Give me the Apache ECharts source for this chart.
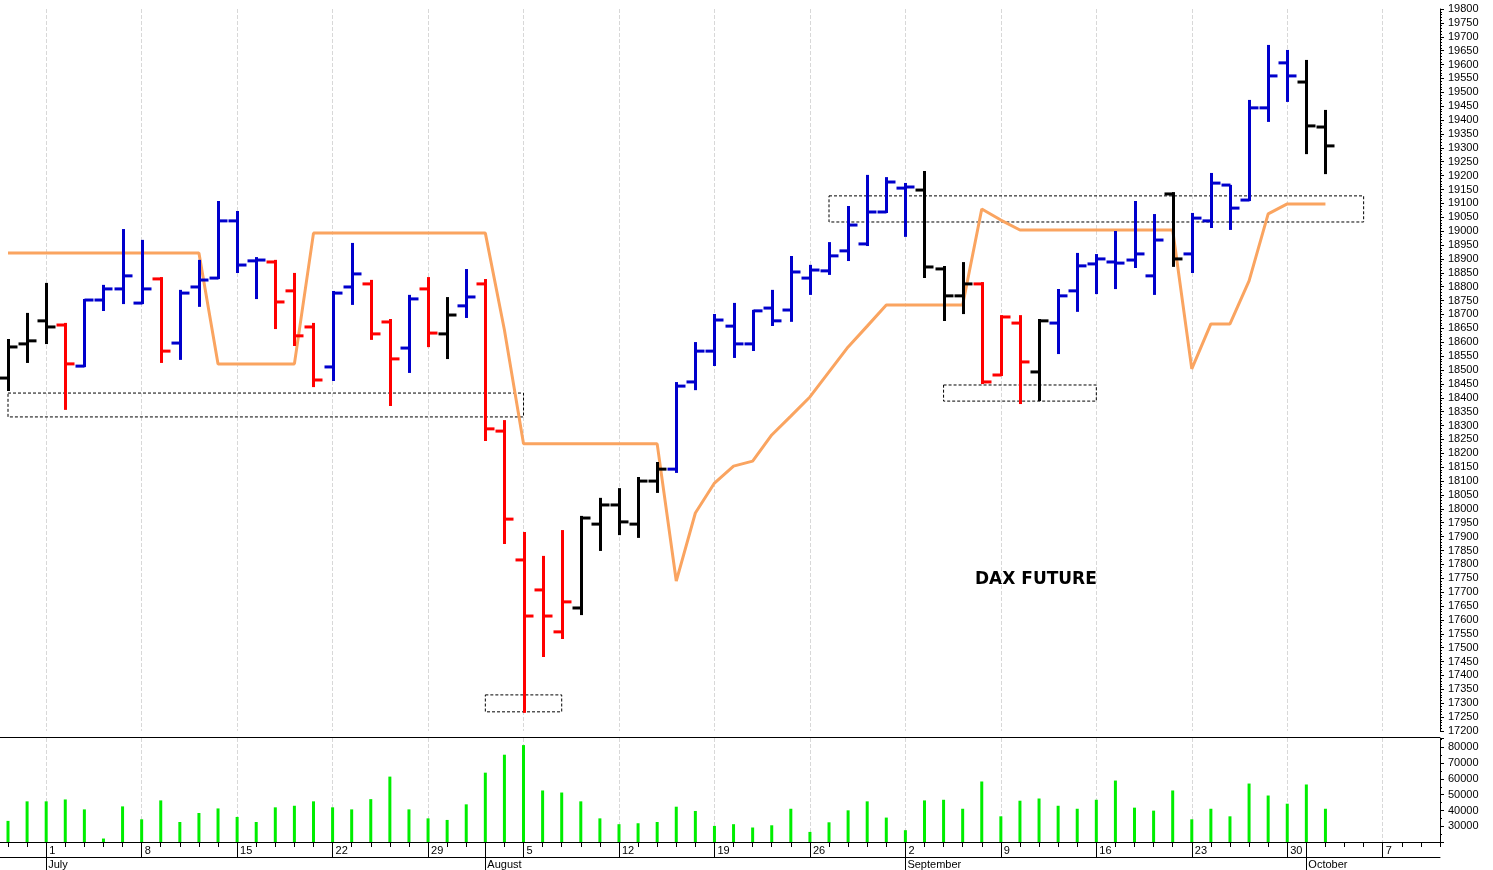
<!DOCTYPE html>
<html>
<head>
<meta charset="utf-8">
<script src="https://cdn.jsdelivr.net/npm/echarts@6/dist/echarts.min.js"></script>
<style>
html,body{margin:0;padding:0;background:#fff;}
#chart{width:1493px;height:870px;}
</style>
</head>
<body>
<div id="chart"></div>
<script>
// daily bars: open, high, low, close
var opens  = [18471,18594,18677,18662,18514,18752,18792,18741,18828,18597,18799,18831,19037,18893,18889,18785,18655,18511,18799,18810,18673,18579,18792,18630,18731,
              18810,18280,17816,17708,17557,17643,17945,18014,17945,18100,18143,18457,18568,18658,18594,18723,18716,18831,18857,18929,18954,19069,19155,
              19148,18864,18767,18810,18482,18669,18493,18669,18785,18882,18889,18896,18839,19134,18918,19037,19166,19112,19444,19606,19537,19375];
var highs  = [18608,18702,18810,18666,18752,18803,19004,18965,18831,18785,18893,19105,19069,18903,18893,18846,18666,18781,18954,18821,18680,18767,18831,18759,18860,
              18824,18316,17913,17827,17920,17971,18036,18071,18111,18165,18453,18597,18698,18738,18713,18785,18907,18875,18957,19087,19199,19191,19170,
              19213,18871,18885,18813,18694,18694,18680,18788,18918,18914,18997,19105,19058,19137,19062,19206,19163,19469,19667,19649,19613,19433];
var lows   = [18428,18529,18597,18360,18514,18716,18741,18741,18529,18540,18731,18831,18853,18759,18651,18590,18442,18464,18738,18612,18374,18493,18586,18543,18691,
              18248,17877,17269,17470,17535,17621,17852,17909,17899,18061,18133,18431,18518,18547,18572,18662,18677,18774,18846,18896,18950,19069,18983,
              18835,18680,18705,18453,18482,18381,18392,18561,18713,18777,18795,18871,18774,18875,18853,19015,19008,19112,19397,19469,19281,19209];
var closes = [18583,18605,18655,18522,18752,18792,18839,18792,18568,18777,18824,19037,18878,18896,18745,18623,18464,18777,18846,18630,18540,18756,18633,18698,18763,
              18288,17963,17614,17614,17665,17967,18014,17953,18100,18143,18442,18568,18680,18594,18713,18677,18853,18860,18911,19022,19069,19177,19159,
              18871,18767,18810,18457,18691,18529,18677,18767,18875,18900,18885,18918,18968,18900,19047,19173,19083,19444,19559,19559,19379,19307];
// bar colour code: k black, b blue, r red
var barColors = 'kkkrbbbbrbbbbbrrrbbrrbrkbrrrrrkkkkkbbbbbbbbbbbbbkkkrrrkbbbbbbkbbbbbbkk';
var trendLine = [18921,18921,18921,18921,18921,18921,18921,18921,18921,18921,18921,18522,18522,18522,18522,18522,18993,18993,18993,18993,18993,18993,18993,18993,18993,
                 18993,18644,18234,18234,18234,18234,18234,18234,18234,18234,17740,17985,18093,18154,18172,18266,18334,18403,18493,18583,18658,18734,18734,
                 18734,18734,18734,19080,19040,19004,19004,19004,19004,19004,19004,19004,19004,19004,18504,18666,18666,18821,19062,19098,19098,19098];
var volumes = [33400,45800,45800,47000,40700,22200,42600,34400,46400,32700,38400,41300,35900,32700,42000,43000,45800,42000,40700,47200,61500,40700,35000,34000,43900,
               64000,75400,81500,52700,51400,45800,35000,31300,31900,32700,42400,39700,30200,31300,29200,30600,41100,26400,32500,40100,45800,35500,27500,
               46400,46800,41100,58400,36300,46200,47600,43000,41100,46800,59000,41800,39900,52700,34400,41100,36300,57100,49500,44300,56500,41100];
// dashed boxes: [fromIndex, toIndex, low, high]
var boxes = [[-0.4,26.9,18331,18417],[24.97,28.95,17269,17330],[42.9,70.7,19033,19127],[48.85,56.75,18388,18446]];
var monthNames = ['January','February','March','April','May','June','July','August','September','October','November','December'];

var dates = [];
var d = new Date(2024, 5, 27);
while (dates.length < 76) {
    if (d.getDay() !== 0 && d.getDay() !== 6) dates.push(new Date(d));
    d.setDate(d.getDate() + 1);
}
var cats = dates.map(function (x, i) { return String(i); });
function isMonday(i) { return dates[i].getDay() === 1; }
function isMonthStart(i) { return i > 0 && dates[i].getMonth() !== dates[i - 1].getMonth(); }
var colorMap = { k: '#000000', b: '#0000cc', r: '#ff0000' };

var ohlc = opens.map(function (o, i) { return [i, o, highs[i], lows[i], closes[i]]; });

var chart = echarts.init(document.getElementById('chart'));
var L = 8, W = 1432;
function hline(y) {
    return { type: 'line', shape: { x1: 0, y1: y, x2: L + W, y2: y }, style: { stroke: '#000', lineWidth: 1 } };
}
chart.setOption({
    animation: false,
    textStyle: { fontFamily: 'Liberation Sans, Arial' },
    grid: [
        { left: L, width: W, top: 9, height: 722 },
        { left: L, width: W, top: 738, height: 104 }
    ],
    xAxis: [
        { type: 'category', data: cats, gridIndex: 0, boundaryGap: false,
          axisLine: { show: false }, axisTick: { show: false }, axisLabel: { show: false },
          splitLine: { show: true, interval: function (i) { return isMonday(i); }, lineStyle: { color: '#d8d8d8', type: 'dashed' } } },
        { type: 'category', data: cats, gridIndex: 1, boundaryGap: false, position: 'bottom',
          axisLine: { show: true, lineStyle: { color: '#000' } },
          axisTick: { show: true, interval: 0, length: 5, lineStyle: { color: '#000' } },
          axisLabel: { interval: 0, align: 'left', margin: 3, padding: [0, 0, 0, 3], fontSize: 11, color: '#000',
                       formatter: function (v, i) { return isMonday(i) ? String(dates[i].getDate()) : ''; } },
          splitLine: { show: true, interval: function (i) { return isMonday(i); }, lineStyle: { color: '#d8d8d8', type: 'dashed' } } },
        { type: 'category', data: cats, gridIndex: 1, boundaryGap: false, position: 'bottom',
          axisLine: { show: false }, axisLabel: { show: false },
          axisTick: { show: true, interval: function (i) { return isMonday(i) || isMonthStart(i); }, length: 15, lineStyle: { color: '#000' } } },
        { type: 'category', data: cats, gridIndex: 1, boundaryGap: false, position: 'bottom', offset: 15,
          axisLine: { show: true, lineStyle: { color: '#000' } },
          axisTick: { show: true, interval: function (i) { return isMonthStart(i) || i === 2; }, length: 14, lineStyle: { color: '#000' } },
          axisLabel: { interval: 0, align: 'left', margin: 2, padding: [0, 0, 0, 2], fontSize: 11, color: '#000',
                       formatter: function (v, i) { return (isMonthStart(i) || i === 2) ? monthNames[dates[i].getMonth()] : ''; } } }
    ],
    yAxis: [
        { type: 'value', gridIndex: 0, position: 'right', min: 17200, max: 19800, interval: 50,
          axisLine: { show: true, lineStyle: { color: '#000' } },
          axisTick: { show: true, length: 4, lineStyle: { color: '#000' } },
          minorTick: { show: true, splitNumber: 5, length: 2, lineStyle: { color: '#000' } },
          axisLabel: { fontSize: 11, color: '#000', margin: 8, formatter: function (v) { return String(v); } },
          splitLine: { show: false } },
        { type: 'value', gridIndex: 1, position: 'right', min: 20000, max: 86000, interval: 10000,
          axisLine: { show: true, lineStyle: { color: '#000' } },
          axisTick: { show: true, length: 4, lineStyle: { color: '#000' } },
          minorTick: { show: true, splitNumber: 2, length: 2, lineStyle: { color: '#000' } },
          axisLabel: { fontSize: 11, color: '#000', margin: 8, showMinLabel: false, showMaxLabel: false,
                       formatter: function (v) { return String(v); } },
          splitLine: { show: false } }
    ],
    graphic: [
        { type: 'text', left: 975, top: 571, style: { text: 'DAX FUTURE', font: 'bold 17px "DejaVu Sans", sans-serif', fill: '#000' } },
        hline(737.5), hline(842.5), hline(857.5)
    ],
    series: [
        { type: 'custom', xAxisIndex: 0, yAxisIndex: 0, data: boxes, encode: { x: [0, 1], y: [2, 3] },
          renderItem: function (params, api) {
              var p0 = api.coord([api.value(0), api.value(3)]);
              var p1 = api.coord([api.value(1), api.value(2)]);
              return { type: 'rect', shape: { x: p0[0], y: p0[1], width: p1[0] - p0[0], height: p1[1] - p0[1] },
                       style: { fill: 'none', stroke: '#000', lineWidth: 1, lineDash: [3, 2] } };
          } },
        { type: 'line', xAxisIndex: 0, yAxisIndex: 0, data: trendLine, showSymbol: false,
          lineStyle: { color: '#faa460', width: 3 }, itemStyle: { color: '#faa460' }, z: 3 },
        { type: 'custom', xAxisIndex: 0, yAxisIndex: 0, data: ohlc, encode: { x: 0, y: [1, 2, 3, 4] }, z: 4,
          renderItem: function (params, api) {
              var i = api.value(0);
              var o = api.coord([i, api.value(1)]);
              var h = api.coord([i, api.value(2)]);
              var l = api.coord([i, api.value(3)]);
              var c = api.coord([i, api.value(4)]);
              var st = { stroke: colorMap[barColors[params.dataIndex]], lineWidth: 3 };
              var x = Math.round(o[0]) + 0.5;
              return { type: 'group', children: [
                  { type: 'line', shape: { x1: x, y1: h[1] - 1, x2: x, y2: l[1] + 1 }, style: st },
                  { type: 'line', shape: { x1: x - 9, y1: o[1], x2: x, y2: o[1] }, style: st },
                  { type: 'line', shape: { x1: x, y1: c[1], x2: x + 9, y2: c[1] }, style: st }
              ] };
          } },
        { type: 'bar', xAxisIndex: 1, yAxisIndex: 1, data: volumes, barWidth: 3,
          itemStyle: { color: '#00ee00' } }
    ]
});
</script>
</body>
</html>
